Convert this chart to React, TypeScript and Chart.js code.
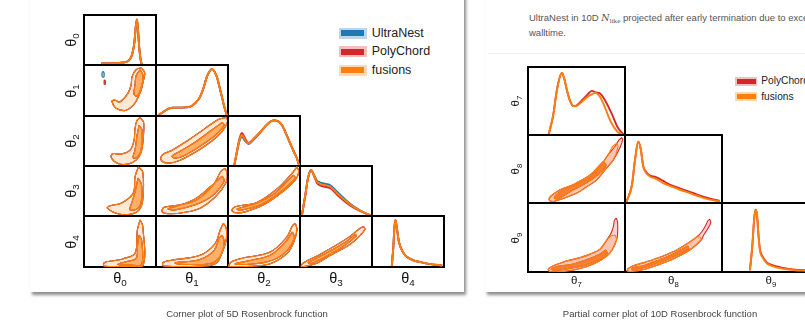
import React, { useEffect, useRef } from "react";
import { Chart, registerables } from "chart.js";

Chart.register(...registerables);

type Pt = [number, number];

// ---------- 5D Rosenbrock: 1D marginals (x in 0..100 of the cell range, density 0..100) ----------
const t0Marg: Pt[] = [[24, 3], [35, 3], [45, 3.5], [55, 5], [60, 7], [64, 12], [67, 22], [70, 45], [72, 78], [73.5, 91], [75, 70], [77, 30], [79, 8], [80.5, 0]];
const t1Marg: Pt[] = [[3, 1], [10, 8], [17, 14], [24, 16.5], [35, 16.5], [47, 18], [55, 26], [61, 37], [66, 55], [71, 78], [77.5, 92], [84.5, 77], [88, 58], [91.5, 38], [95, 17], [98.5, 1]];
const t2MargF: Pt[] = [[8.6, 0], [12.8, 31.6], [16, 52], [19.3, 61.4], [23.2, 53.5], [28.5, 45], [36.4, 55.5], [44.8, 68], [54.5, 83.3], [63.3, 91.3], [69.8, 89.3], [75, 81.3], [81, 63.4], [86.5, 45], [91, 30], [95.8, 15], [99, 0]];
const t2MargP: Pt[] = [[8.6, 0], [12.8, 33], [16, 55], [19.3, 66], [23.2, 57], [28.5, 46], [36.4, 55.5], [44.8, 68], [54.5, 83.3], [63.3, 91.3], [69.8, 89.3], [75, 81.3], [81, 63.4], [86.5, 45], [91, 30], [95.8, 15], [99, 0]];
const t2MargU: Pt[] = [[8.6, 0], [12.8, 30], [16, 50], [19.3, 58], [23.2, 51], [28.5, 44], [36.4, 54], [44.8, 67], [54.5, 83.3], [63.3, 91.3], [69.8, 89.3], [75, 81.3], [81, 63.4], [86.5, 45], [91, 30], [95.8, 15], [99, 0]];
const t3MargF: Pt[] = [[2.8, 2.4], [7.4, 42], [11, 75], [15.3, 92], [19.2, 82], [23.6, 68.6], [28, 64], [32.8, 62], [42.1, 58.6], [51.5, 45.5], [60.2, 34.2], [70, 22.3], [83.9, 10.3], [97.8, 1.4]];
const t3MargU: Pt[] = [[2.8, 2.4], [7.4, 42], [11, 75], [15.3, 92], [19.2, 83], [23.6, 71], [28, 67], [32.8, 65], [42.1, 61.5], [51.5, 48.5], [60.2, 36.5], [70, 24], [83.9, 11], [97.8, 1.4]];
const t3MargP: Pt[] = [[2.8, 2.4], [7.4, 42], [11, 75], [15.3, 92], [19.2, 81], [23.6, 66], [28, 61], [32.8, 59], [42.1, 55.5], [51.5, 42.5], [60.2, 31.5], [70, 20.5], [83.9, 9.5], [97.8, 1.4]];
const t4Marg: Pt[] = [[27.5, 2], [29.8, 42.7], [31, 75], [32.5, 92.4], [34, 82], [35.3, 68.6], [37, 52], [39.5, 39.4], [44, 27], [48.8, 19.5], [57.6, 13], [67.3, 9.5], [81.2, 5.6], [97.5, 3]];

// ---------- 5D Rosenbrock: 2D contours (68% inner, 95% outer) ----------
const t1t0Outer: Pt[] = [[79.3, 94.6], [84.4, 84.7], [82, 66.8], [79.3, 50.9], [70.5, 25], [58.4, 11.1], [47.3, 13.1], [42.7, 17.7], [38.9, 29.6], [43.1, 31], [49.7, 27.6], [61.2, 44.9], [65.4, 60.8], [66.8, 77.3], [72.3, 90.7]];
const t1t0Inner: Pt[] = [[77.9, 90.7], [82, 78.8], [79.3, 55], [73.7, 39], [69.5, 43], [70.9, 60.8], [72.3, 78.8]];
const t1t0IslandF: Pt[] = [[25, 77], [27.5, 76], [28, 84], [26.5, 87], [25, 84]];
const t1t0IslandP: Pt[] = [[28, 62], [29.5, 62], [29.5, 70], [28, 70]];
const t2t0Outer: Pt[] = [[77.9, 97.2], [82.8, 87.3], [82, 51.5], [79.3, 27.6], [72.3, 11.7], [61.2, 3.8], [47.3, 4.8], [37.6, 17.7], [40.3, 24.7], [51.5, 23.7], [64, 31.6], [69.5, 51.5], [70.9, 75.3], [73.7, 91.3]];
const t2t0Inner: Pt[] = [[76.5, 81.3], [80.7, 71.4], [79.3, 31.6], [73.7, 17.7], [68.1, 16.7], [70.9, 31.6], [73.7, 61.4]];
const t3t0Outer: Pt[] = [[75.5, 98.4], [81.6, 87.9], [81.6, 32.2], [76.5, 12.3], [64, 3.4], [47.3, 4.4], [32.4, 15.7], [36.2, 20.3], [52.4, 26.2], [68.5, 46.1], [70.9, 78.5]];
const t3t0Inner: Pt[] = [[75.1, 75.9], [80, 62], [79.3, 26.2], [73.7, 14.3], [64, 12.3], [66.8, 28.2], [70.9, 48]];
const t4t0Outer: Pt[] = [[77.9, 92.4], [81.6, 80.5], [81.6, 2], [57, 1], [27.8, 2], [28.5, 8.9], [43.1, 12.9], [54.7, 16.3], [70.9, 26.8], [74.1, 72.6]];
const t4t0Inner: Pt[] = [[76.5, 62.6], [80, 52.7], [80, 4.9], [64, 3.9], [47.3, 4.9], [57, 9.9], [72.3, 16.9], [74.4, 42.7]];
const t2t1Outer: Pt[] = [[97.5, 97.2], [99.6, 89.3], [91.9, 69.4], [75.2, 47.5], [54.4, 27.6], [33.5, 11.7], [16.8, 5.8], [7.1, 11.7], [8.5, 21.7], [22.4, 31.6], [44.6, 51.5], [68.3, 75.3], [86.4, 93.2]];
const t2t1Inner: Pt[] = [[91.9, 87.3], [94.6, 81.3], [82.2, 61.4], [61.3, 39.6], [40.5, 21.7], [26.6, 15.7], [22.4, 19.7], [33.5, 29.6], [54.4, 47.5], [75.2, 69.4]];
const t3t1Outer: Pt[] = [[96.1, 95.2], [98.9, 85.3], [97.5, 67.4], [82.2, 37.6], [61.3, 15.7], [40.5, 7.4], [19.6, 4.4], [8.5, 8.3], [11.3, 17.3], [33.5, 22.3], [56.7, 32.2], [79.4, 62], [90.5, 89.9]];
const t3t1Inner: Pt[] = [[91.9, 79.9], [94.7, 70], [78, 40.2], [54.4, 22.3], [26.6, 12.3], [16.8, 14.3], [30.7, 20.3], [54.4, 34.2], [75.2, 58]];
const t4t1Outer: Pt[] = [[93.7, 85.9], [97.5, 76.5], [97.5, 52.7], [91.9, 28.8], [84.6, 8.9], [68.3, 2], [10.3, 2], [9.9, 8.9], [19.6, 12.9], [61.3, 22.9], [82.2, 46.1], [89.2, 72.6]];
const t4t1Inner: Pt[] = [[91.9, 62.6], [94.7, 48.7], [89.2, 20.9], [75.2, 7], [40.5, 5], [26.6, 7.9], [61.3, 14.9], [80.8, 32.8], [87.8, 56.7]];
const t3t2Outer: Pt[] = [[95.8, 98.4], [98.3, 87.9], [93.5, 72], [77.2, 50.1], [49.4, 22.3], [23.9, 8.3], [11.4, 6.4], [5.4, 11.3], [10, 18.3], [40.2, 27.2], [68, 54.1], [88.9, 85.3]];
const t3t2Inner: Pt[] = [[90.7, 81.9], [93.5, 75.9], [72.6, 48], [44.8, 22.3], [17, 11.3], [12.8, 14.3], [37.8, 24.3], [65.6, 46.1], [85.1, 73.9]];
const t4t2Outer: Pt[] = [[93.5, 85.9], [95.8, 72.6], [90.7, 46.7], [81.9, 26.2], [58.7, 6.4], [30.9, 1.4], [1.7, 1], [4.5, 9.9], [17, 16.3], [58.7, 29.4], [81.9, 59.2], [89.3, 80.5]];
const t4t2Inner: Pt[] = [[89.3, 68.6], [92.1, 56.7], [78.2, 26.8], [55.9, 10.9], [23.9, 5], [10, 6], [30.9, 12.9], [58.7, 22.9], [79.6, 48.7]];
const t4t3Outer: Pt[] = [[88.5, 79.1], [90.1, 73.6], [76.9, 52.7], [65.4, 40.8], [42.1, 22.9], [25.5, 8.9], [7.4, 1.4], [1.8, 1.4], [4.6, 8], [28.2, 24.9], [65.4, 56.1], [83.9, 76.5]];
const t4t3Inner: Pt[] = [[76.9, 64.6], [78.2, 60.6], [56, 36.8], [28.2, 14.9], [14.3, 6.9], [11.5, 8.9], [28.2, 20.9], [63, 48.7]];

// ---------- 10D Rosenbrock (partial): marginals ----------
const t7MargF: Pt[] = [[21.2, 0], [26, 29.3], [30.1, 68.8], [34.9, 91.2], [37.3, 83.4], [40.1, 65.9], [43.5, 49.8], [46.9, 42.5], [50.7, 43.2], [55.5, 48.8], [60.9, 55.5], [66.1, 60], [69.2, 61.9], [74.3, 56.1], [78.4, 43.9], [85.3, 19.5], [92.2, 4.8], [98.3, 0]];
const t7MargP: Pt[] = [[21.2, 0], [26, 29.3], [30.1, 68.8], [34.9, 91.2], [37.3, 83.4], [40.1, 65.9], [43.5, 49.8], [46.9, 42.5], [50.7, 44], [55.5, 51], [60.9, 58.6], [65.8, 64.9], [70.2, 62.5], [74.3, 61], [79.4, 51.2], [86.2, 31.7], [93, 9.8], [99, 0]];
const t8MargF: Pt[] = [[1.7, 2.3], [7.2, 26.8], [10.3, 63.4], [13.7, 90.2], [16.4, 78], [18.8, 53.6], [21.6, 44.4], [25.7, 38.9], [31.9, 35.6], [39.4, 29.3], [46.2, 25.3], [56.5, 19.5], [66.8, 14.6], [73.7, 10.7], [85.3, 5.6], [97.6, 2.3]];
const t8MargP: Pt[] = [[1.7, 2.3], [7.2, 26.8], [10.3, 63.4], [13.7, 90.2], [16.4, 78], [18.8, 54], [21.6, 46], [25.7, 40.5], [31.9, 38], [39.4, 32.5], [46.2, 27], [56.5, 21.5], [66.8, 16.5], [73.7, 12.8], [85.3, 7.5], [97.6, 3]];
const t9MargF: Pt[] = [[28.5, 2.5], [31, 39], [32.6, 72.8], [34.1, 90.3], [35.7, 83], [37.2, 53.7], [38.7, 31.8], [41.8, 20.1], [45.6, 12.7], [52.1, 8.3], [62.4, 4.7], [74.7, 2.5], [85, 1.8], [100, 1]];
const t9MargP: Pt[] = [[28.5, 2.5], [31, 39], [32.6, 72.8], [34.1, 90.3], [35.7, 83], [37.2, 54], [38.7, 33], [41.8, 21.5], [45.6, 14], [52.1, 9.5], [62.4, 6], [74.7, 3.5], [85, 2.5], [100, 1.5]];

// ---------- 10D Rosenbrock (partial): 2D contours ----------
const t8t7Outer: Pt[] = [[91.5, 87.8], [92.8, 82.4], [88, 63.4], [79.4, 48.8], [70.9, 34.1], [58.9, 22.4], [50.4, 14.6], [38.3, 7.8], [26.3, 2.3], [21.9, 4.1], [22.9, 9.2], [33.2, 19.5], [43.5, 25.3], [53.8, 29.3], [66.1, 40], [74.3, 53.6], [82.5, 70.7], [87.7, 83.9]];
const t8t7Inner: Pt[] = [[77.4, 60.9], [80.5, 55.1], [72.3, 41.9], [58.9, 28.7], [43.5, 17], [31.1, 6.3], [27, 7.8], [33.2, 16.5], [48.6, 28.3], [64, 41.4], [73.3, 54.6]];
const t8t7OuterP: Pt[] = [[96.6, 96.3], [97.5, 93], [95, 82], [88, 63.4], [79.4, 48.8], [70.9, 34.1], [58.9, 22.4], [50.4, 14.6], [38.3, 7.8], [26.3, 2.3], [21.9, 4.1], [22.9, 9.2], [33.2, 19.5], [43.5, 25.3], [53.8, 29.3], [66.1, 40], [74.3, 53.6], [82.5, 70.7], [89, 82], [93.5, 92]];
const t9t7Outer: Pt[] = [[89.7, 53.7], [91.3, 46.4], [86.6, 31.8], [81.2, 23], [69.2, 12.7], [53.8, 5], [38.3, 1], [22.9, 0.6], [20.9, 4], [25, 8.3], [36.6, 14.6], [51.7, 20.1], [64, 25.9], [74.3, 33.2], [81.2, 46.4], [85.6, 52.2]];
const t9t7Inner: Pt[] = [[80.5, 31.8], [81.5, 25.9], [72.3, 17.1], [58.9, 9.8], [43.5, 5.4], [28.1, 2.5], [24, 4], [31.1, 8.3], [45.5, 11.3], [61.7, 18.6], [74, 25.9]];
const t9t7OuterP: Pt[] = [[90.8, 78.2], [92.3, 72.8], [92.3, 53.7], [91.3, 46.4], [86.6, 31.8], [81.2, 23], [69.2, 12.7], [53.8, 5], [38.3, 1], [22.9, 0.6], [20.9, 4], [25, 8.3], [36.6, 14.6], [51.7, 20.1], [64, 25.9], [74.3, 33.2], [81.2, 46.4], [85.6, 56], [88, 66], [89, 74]];
const t9t8Outer: Pt[] = [[77.1, 51.2], [78.6, 46.4], [66.8, 31.8], [51.4, 20.1], [36, 11.3], [20.6, 4], [5.1, 0.6], [2.1, 2.5], [7.2, 8.3], [20.6, 14.2], [36, 21.5], [51.4, 30.3], [66.8, 43.5], [74, 50.8]];
const t9t8Inner: Pt[] = [[64.7, 37.6], [65.8, 33.2], [51.4, 23], [36, 14.2], [20.6, 6.9], [8.2, 3.2], [7.2, 5.4], [20.6, 9.8], [36, 17.9], [51.4, 27.1]];
const t9t8OuterP: Pt[] = [[87.4, 76.7], [88.4, 71.3], [85, 62], [81.2, 53.7], [78.6, 46.4], [66.8, 31.8], [51.4, 20.1], [36, 11.3], [20.6, 4], [5.1, 0.6], [2.1, 2.5], [7.2, 8.3], [20.6, 14.2], [36, 21.5], [51.4, 30.3], [66.8, 43.5], [74, 50.8], [79, 58], [83, 67], [85.5, 74.2]];

// ---------- labels ----------
const params5 = ["0", "1", "2", "3", "4"];
const params10 = ["7", "8", "9"];
const legend5 = ["UltraNest", "PolyChord", "fusions"];
const legend10 = ["PolyChord", "fusions"];
const caption5 = "Corner plot of 5D Rosenbrock function";
const caption10 = "Partial corner plot of 10D Rosenbrock function";

// ---------- styles ----------
const BLUE = "#1f77b4";
const RED = "#d62728";
const ORANGE = "#ff7f0e";
const ORANGE_LIGHT = "rgba(255,127,14,0.18)";
const ORANGE_DARK = "rgba(255,127,14,0.55)";
const RED_LIGHT = "rgba(214,39,40,0.2)";
const RED_DARK = "rgba(214,39,40,0.5)";
const FONT = '"Liberation Sans", Arial, Helvetica, sans-serif';
const PAD = 3;

const colsL = [84, 156, 228, 300, 372, 444];
const rowsL = [15, 65, 116, 166, 216, 267];
const colsR = [528, 625, 722, 820];
const rowsR = [67, 135, 203, 272];

type Layer = { pts: Pt[]; color: string; width: number; fill?: string; closed?: boolean };

const line1D = (pts: Pt[], color: string): Layer => ({ pts, color, width: 1.9 });
const shape = (pts: Pt[], color: string, fill?: string): Layer => ({ pts, color, width: 1.1, fill, closed: true });

const axis = (position: string) => ({
  type: "linear" as const,
  position,
  min: 0,
  max: 100,
  ticks: { display: false },
  grid: { display: false, drawTicks: false },
  border: { display: true, color: "#000", width: 2 },
});

function Cell({ x0, x1, y0, y1, layers }: { x0: number; x1: number; y0: number; y1: number; layers: Layer[] }) {
  const ref = useRef<HTMLCanvasElement>(null);
  const W = x1 - x0 + 2 * PAD;
  const H = y1 - y0 + 2 * PAD;
  useEffect(() => {
    const n = layers.length;
    const chart = new Chart(ref.current as HTMLCanvasElement, {
      type: "scatter",
      data: {
        datasets: layers.map((l, i) => ({
          data: (l.closed ? [...l.pts, l.pts[0]] : l.pts).map(([a, b]) => ({ x: a, y: b })),
          showLine: true,
          borderColor: l.color,
          borderWidth: l.width,
          backgroundColor: l.fill ?? "rgba(0,0,0,0)",
          fill: l.fill ? "shape" : false,
          pointRadius: 0,
          pointHoverRadius: 0,
          tension: l.closed ? 0.35 : 0,
          cubicInterpolationMode: l.closed ? "default" : "monotone",
          order: n - i,
        })) as any,
      },
      options: {
        animation: false,
        responsive: false,
        maintainAspectRatio: false,
        events: [],
        layout: { padding: PAD },
        plugins: { legend: { display: false }, tooltip: { enabled: false } },
        scales: { x: axis("bottom"), x2: axis("top"), y: axis("left"), y2: axis("right") } as any,
      },
    });
    return () => chart.destroy();
  }, []);
  return (
    <canvas
      ref={ref}
      width={W}
      height={H}
      style={{ position: "absolute", left: x0 - PAD, top: y0 - PAD, width: W, height: H }}
    />
  );
}

function Theta({ sub, x, y, size, rotate }: { sub: string; x: number; y: number; size: number; rotate?: boolean }) {
  return (
    <div
      style={{
        position: "absolute",
        left: x,
        top: y,
        transform: `translate(-50%,-50%)${rotate ? " rotate(-90deg)" : ""}`,
        fontFamily: FONT,
        fontSize: size,
        lineHeight: 1,
        color: "#111",
        whiteSpace: "nowrap",
      }}
    >
      θ<sub style={{ fontSize: "0.68em", verticalAlign: "-0.3em" }}>{sub}</sub>
    </div>
  );
}

function Swatch({ x, y, w, h, bw, bh, color, light, label, size }: any) {
  return (
    <div style={{ position: "absolute", left: x, top: y - h / 2, height: h, display: "flex", alignItems: "center" }}>
      <div style={{ width: w, height: h, background: light, display: "flex", alignItems: "center", justifyContent: "center" }}>
        <div style={{ width: bw, height: bh, background: color }} />
      </div>
      <span style={{ marginLeft: size * 0.42, fontFamily: FONT, fontSize: size, color: "#222", lineHeight: 1, whiteSpace: "nowrap" }}>{label}</span>
    </div>
  );
}

export default function App() {
  const cellL = (r: number, c: number, layers: Layer[]) => (
    <Cell key={`L${r}${c}`} x0={colsL[c]} x1={colsL[c + 1]} y0={rowsL[r]} y1={rowsL[r + 1]} layers={layers} />
  );
  const cellR = (r: number, c: number, layers: Layer[]) => (
    <Cell key={`R${r}${c}`} x0={colsR[c]} x1={colsR[c + 1]} y0={rowsR[r]} y1={rowsR[r + 1]} layers={layers} />
  );
  const marg3 = (u: Pt[], p: Pt[], f: Pt[]) => [line1D(u, BLUE), line1D(p, RED), line1D(f, ORANGE)];
  const c2L = (outer: Pt[], inner: Pt[], extra: Layer[] = []) => [
    shape(outer, BLUE),
    shape(inner, BLUE),
    shape(outer, RED),
    shape(inner, RED),
    ...extra,
    shape(outer, ORANGE, ORANGE_LIGHT),
    shape(inner, ORANGE, ORANGE_DARK),
  ];
  const c2R = (outerP: Pt[], outer: Pt[], inner: Pt[]) => [
    shape(outerP, RED, RED_LIGHT),
    shape(inner, RED, RED_DARK),
    shape(outer, ORANGE, ORANGE_LIGHT),
    shape(inner, ORANGE, ORANGE_DARK),
  ];

  const legendLight: Record<string, string> = {
    UltraNest: "rgba(31,119,180,0.3)",
    PolyChord: "rgba(214,39,40,0.3)",
    fusions: "rgba(255,127,14,0.3)",
  };
  const legendColor: Record<string, string> = { UltraNest: BLUE, PolyChord: RED, fusions: ORANGE };

  return (
    <div style={{ position: "absolute", left: 0, top: 0, width: 805, height: 323, overflow: "hidden", background: "#fff" }}>
      {/* cards */}
      <div style={{ position: "absolute", left: 30, top: -10, width: 434, height: 302, background: "#fff", boxShadow: "2px 3px 3px rgba(0,0,0,0.45)" }} />
      <div style={{ position: "absolute", left: 485, top: -10, width: 400, height: 302, background: "#fff", boxShadow: "2px 3px 3px rgba(0,0,0,0.45)" }} />
      <div style={{ position: "absolute", left: 488, top: 53, width: 330, height: 1, background: "#f1f1f1" }} />

      {/* 5D corner plot */}
      {cellL(0, 0, marg3(t0Marg, t0Marg, t0Marg))}
      {cellL(1, 0, c2L(t1t0Outer, t1t0Inner, [shape(t1t0IslandP, RED, RED_DARK), shape(t1t0IslandF, BLUE, ORANGE_DARK)]))}
      {cellL(1, 1, marg3(t1Marg, t1Marg, t1Marg))}
      {cellL(2, 0, c2L(t2t0Outer, t2t0Inner))}
      {cellL(2, 1, c2L(t2t1Outer, t2t1Inner))}
      {cellL(2, 2, marg3(t2MargU, t2MargP, t2MargF))}
      {cellL(3, 0, c2L(t3t0Outer, t3t0Inner))}
      {cellL(3, 1, c2L(t3t1Outer, t3t1Inner))}
      {cellL(3, 2, c2L(t3t2Outer, t3t2Inner))}
      {cellL(3, 3, marg3(t3MargU, t3MargP, t3MargF))}
      {cellL(4, 0, c2L(t4t0Outer, t4t0Inner))}
      {cellL(4, 1, c2L(t4t1Outer, t4t1Inner))}
      {cellL(4, 2, c2L(t4t2Outer, t4t2Inner))}
      {cellL(4, 3, c2L(t4t3Outer, t4t3Inner))}
      {cellL(4, 4, marg3(t4Marg, t4Marg, t4Marg))}

      {params5.map((p, i) => (
        <Theta key={`xl${p}`} sub={p} x={(colsL[i] + colsL[i + 1]) / 2} y={279} size={14.5} />
      ))}
      {params5.map((p, i) => (
        <Theta key={`yl${p}`} sub={p} x={72} y={(rowsL[i] + rowsL[i + 1]) / 2} size={14.5} rotate />
      ))}
      {legend5.map((l, i) => (
        <Swatch key={`lg5${l}`} x={338.5} y={33 + i * 18.5} w={28} h={11} bw={23} bh={6} color={legendColor[l]} light={legendLight[l]} label={l} size={12.5} />
      ))}

      {/* 10D partial corner plot */}
      <div style={{ position: "absolute", left: 529, top: 11.5, fontFamily: FONT, fontSize: 9.5, lineHeight: "11.7px", color: "#555", whiteSpace: "nowrap" }}>
        UltraNest in 10D{" "}
        <span style={{ fontFamily: '"DejaVu Serif", "Liberation Serif", serif', fontStyle: "italic" }}>N</span>
        <sub style={{ fontFamily: '"Liberation Serif", serif', fontSize: "0.75em", verticalAlign: "-0.25em" }}>like</sub> projected after early termination due to exceeding
        <br />
        walltime.
      </div>
      {cellR(0, 0, [line1D(t7MargP, RED), line1D(t7MargF, ORANGE)])}
      {cellR(1, 0, c2R(t8t7OuterP, t8t7Outer, t8t7Inner))}
      {cellR(1, 1, [line1D(t8MargP, RED), line1D(t8MargF, ORANGE)])}
      {cellR(2, 0, c2R(t9t7OuterP, t9t7Outer, t9t7Inner))}
      {cellR(2, 1, c2R(t9t8OuterP, t9t8Outer, t9t8Inner))}
      {cellR(2, 2, [line1D(t9MargP, RED), line1D(t9MargF, ORANGE)])}

      {params10.map((p, i) => (
        <Theta key={`xr${p}`} sub={p} x={(colsR[i] + colsR[i + 1]) / 2} y={282} size={11.5} />
      ))}
      {params10.map((p, i) => (
        <Theta key={`yr${p}`} sub={p} x={517} y={(rowsR[i] + rowsR[i + 1]) / 2} size={11.5} rotate />
      ))}
      {legend10.map((l, i) => (
        <Swatch key={`lg10${l}`} x={735} y={81.3 + i * 15.4} w={22} h={8.5} bw={19} bh={4.5} color={legendColor[l]} light={legendLight[l]} label={l} size={10.2} />
      ))}

      {/* captions */}
      <div style={{ position: "absolute", left: 247, top: 313, transform: "translate(-50%,-50%)", fontFamily: FONT, fontSize: 9.5, color: "#444", whiteSpace: "nowrap" }}>
        {caption5}
      </div>
      <div style={{ position: "absolute", left: 660, top: 313, transform: "translate(-50%,-50%)", fontFamily: FONT, fontSize: 9.5, color: "#444", whiteSpace: "nowrap" }}>
        {caption10}
      </div>
    </div>
  );
}
